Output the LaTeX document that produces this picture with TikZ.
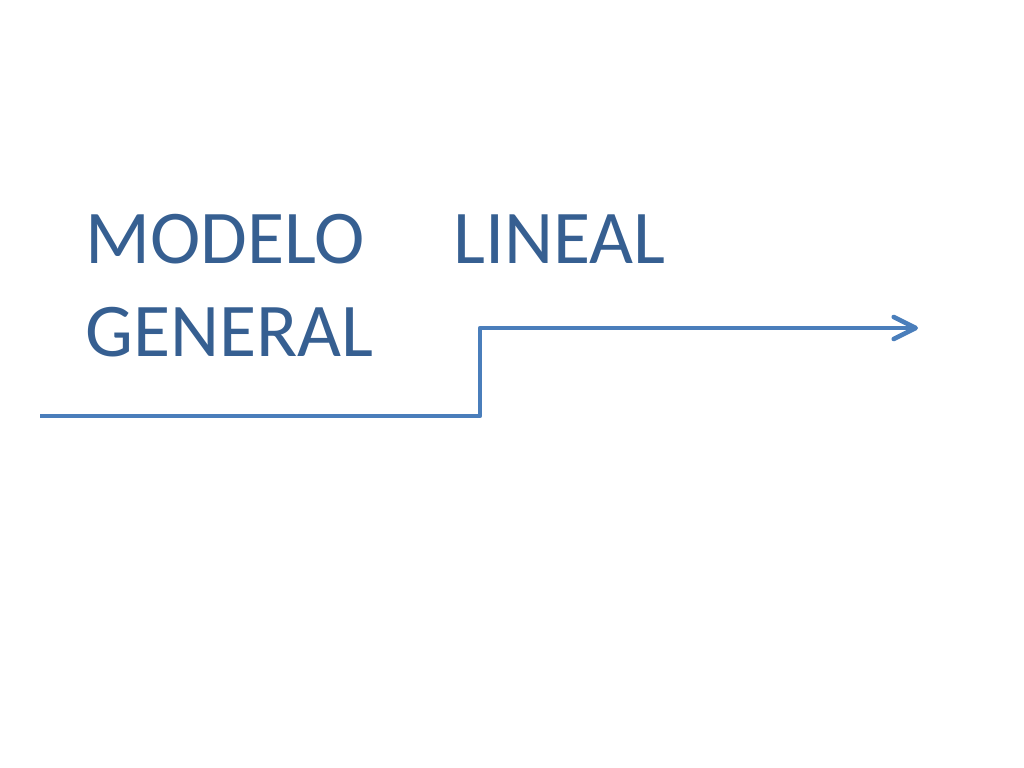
\documentclass[tikz,border=0pt]{standalone}
\usepackage{fontspec}
\setmainfont{Carlito}
\usetikzlibrary{arrows.meta}
\definecolor{titleCol}{HTML}{365F91}
\definecolor{lineCol}{HTML}{4A7EBB}
\begin{document}
\begin{tikzpicture}[x=0.025cm,y=-0.025cm,>={Straight Barb[length=0.55cm,width=0.55cm,round]},
    word/.style={anchor=base west,inner sep=0pt,text=titleCol,font=\fontsize{54}{60}\selectfont},
    step line/.style={draw=lineCol,line width=0.115cm,line join=round}]
        \useasboundingbox (0,0) rectangle (1024,768);
        % title
        \node[word] (modelo) at (85,263.5) {MODELO};
        \node[word] (lineal) at (453,263.5) {LINEAL};
        \node[word] (general) at (85,356) {GENERAL};
        % step
        \coordinate (start) at (40,416);
        \coordinate (rise) at (480,328);
        \coordinate (end) at (918,328);
        \draw[step line,->] (start) -| (rise) -- (end);
    \end{tikzpicture}
\end{document}
